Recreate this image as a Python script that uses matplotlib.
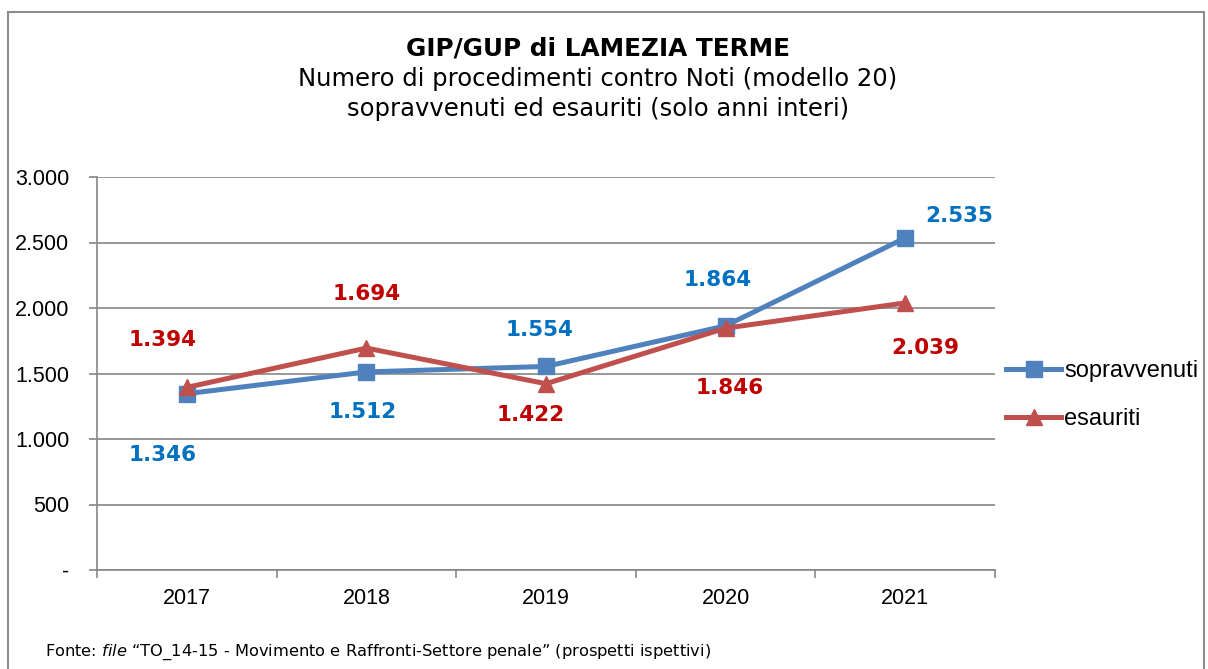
import numpy as np
from matplotlib import pyplot as plt
from matplotlib.patches import Rectangle

# Data
years = ['2017', '2018', '2019', '2020', '2021']
sopravvenuti = [1346, 1512, 1554, 1864, 2535]
esauriti = [1394, 1694, 1422, 1846, 2039]
yticks = [0, 500, 1000, 1500, 2000, 2500, 3000]
ytick_labels = ['-', '500', '1.000', '1.500', '2.000', '2.500', '3.000']

# Label offsets in pixels (dx, dy) from each point
sop_offsets = [(-24, -61), (-4, -40), (-6, 36), (-8, 46), (54, 22)]
esa_offsets = [(-24, 47), (0, 54), (-15, -31), (4, -60), (20, -45)]

BLUE = '#4F81BD'
RED = '#C0504D'
BLUE_TXT = '#0070C0'
RED_TXT = '#C00000'
GRID = '#868686'

W, H = 1208, 669
fig = plt.figure(figsize=(W / 100, H / 100), dpi=100)

# outer frame
fig.patches.append(Rectangle((8 / W, -0.05), (1204 - 8) / W, 1.05 - 12 / H,
                             transform=fig.transFigure, fill=False,
                             edgecolor='#8C8C8C', linewidth=1.5))

ax = fig.add_axes([97 / W, 1 - 570 / H, (995 - 97) / W, (570 - 177) / H])
x = np.arange(len(years))

ax.plot(x, sopravvenuti, color=BLUE, linewidth=3.6, marker='s',
        markersize=11, label='sopravvenuti', zorder=3)
ax.plot(x, esauriti, color=RED, linewidth=3.6, marker='^',
        markersize=12, label='esauriti', zorder=3)

for i, v in enumerate(sopravvenuti):
    dx, dy = sop_offsets[i]
    ax.annotate(f'{v:,}'.replace(',', '.'), (x[i], v),
                xytext=(dx * 0.72, dy * 0.72), textcoords='offset points',
                ha='center', va='center', fontsize=15.5, fontweight='bold',
                color=BLUE_TXT, family='DejaVu Sans')
for i, v in enumerate(esauriti):
    dx, dy = esa_offsets[i]
    ax.annotate(f'{v:,}'.replace(',', '.'), (x[i], v),
                xytext=(dx * 0.72, dy * 0.72), textcoords='offset points',
                ha='center', va='center', fontsize=15.5, fontweight='bold',
                color=RED_TXT, family='DejaVu Sans')

ax.set_xlim(-0.5, len(years) - 0.5)
ax.set_ylim(0, 3000)
ax.set_yticks(yticks)
ax.set_yticklabels(ytick_labels, family='Liberation Sans', fontsize=15.5)
ax.set_xticks(x)
ax.set_xticklabels(years, family='Liberation Sans', fontsize=15.5)
ax.set_xticks(np.arange(-0.5, len(years)), minor=True)
ax.tick_params(axis='x', which='major', length=0, pad=13)
ax.tick_params(axis='x', which='minor', length=6, color=GRID, width=1.2)
ax.tick_params(axis='y', length=6, color=GRID, width=1.2, pad=14)
ax.yaxis.grid(True, color=GRID, linewidth=1.2)
ax.set_axisbelow(True)
for s in ['top', 'right']:
    ax.spines[s].set_visible(False)
for s in ['left', 'bottom']:
    ax.spines[s].set_color(GRID)
    ax.spines[s].set_linewidth(1.2)

leg = fig.legend(loc='center left', bbox_to_anchor=(997 / W, 1 - 395 / H),
                 frameon=False, prop={'family': 'Liberation Sans', 'size': 17},
                 handlelength=2.3, labelspacing=1.1, handletextpad=0.15,
                 borderaxespad=0)

cx = 598 / W
fig.text(cx, 1 - 48 / H, 'GIP/GUP di LAMEZIA TERME', ha='center',
         va='center', fontsize=17.8, fontweight='bold', family='DejaVu Sans')
fig.text(cx, 1 - 79 / H, 'Numero di procedimenti contro Noti (modello 20)',
         ha='center', va='center', fontsize=17.5, family='DejaVu Sans')
fig.text(cx, 1 - 109 / H, 'sopravvenuti ed esauriti (solo anni interi)',
         ha='center', va='center', fontsize=17.5, family='DejaVu Sans')

fig.text(45 / W, 1 - 652 / H,
         'Fonte: $\\mathit{file}$ \u201cTO_14-15 - Movimento e Raffronti-Settore penale\u201d (prospetti ispettivi)',
         ha='left', va='center', fontsize=11.7, family='DejaVu Sans')

fig.savefig('out.png', dpi=100)
